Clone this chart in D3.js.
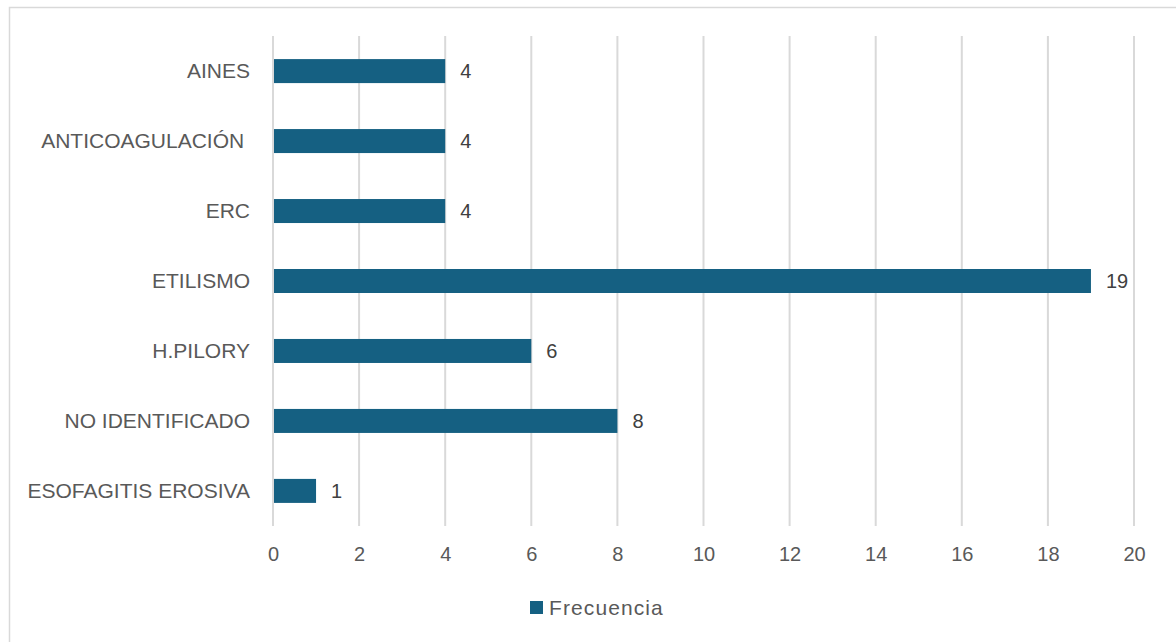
<!DOCTYPE html>
<html>
<head>
<meta charset="utf-8">
<script src="https://cdn.jsdelivr.net/npm/d3@7"></script>
<style>
  html, body { margin: 0; padding: 0; background: #fff; }
  svg text { font-family: "Liberation Sans", Arial, sans-serif; white-space: pre; }
</style>
</head>
<body>
<svg id="chart" width="1176" height="642"></svg>
<script>
// Causes of bleeding and their frequency
const categories = ["AINES", "ANTICOAGULACIÓN ", "ERC", "ETILISMO", "H.PILORY", "NO IDENTIFICADO", "ESOFAGITIS EROSIVA"];
const frequencies = [4, 4, 4, 19, 6, 8, 1];
const xTicks = [0, 2, 4, 6, 8, 10, 12, 14, 16, 18, 20];
const seriesName = "Frecuencia";

const barColor = "#156082";
const textColor = "#595959";
const gridColor = "#d9d9d9";
const labelSize = 21;
const numberSize = 20;

const svg = d3.select("#chart");

// outer frame
svg.append("rect")
  .attr("x", 9.5).attr("y", 7.5)
  .attr("width", 1176).attr("height", 660)
  .attr("fill", "#fff").attr("stroke", gridColor).attr("stroke-width", 1.5);

const plot = { left: 273, right: 1134, top: 36, bottom: 526 };

const x = d3.scaleLinear().domain([0, 20]).range([plot.left, plot.right]);
const y = d3.scaleBand().domain(categories).range([plot.top, plot.bottom]).paddingInner(0.657).paddingOuter(0.33);

// vertical gridlines
svg.append("g")
  .selectAll("line")
  .data(xTicks)
  .join("line")
  .attr("x1", d => x(d)).attr("x2", d => x(d))
  .attr("y1", plot.top).attr("y2", plot.bottom)
  .attr("stroke", gridColor).attr("stroke-width", 2);

// x-axis tick labels
const xAxis = d3.axisBottom(x).tickValues(xTicks).tickSize(0).tickPadding(0);
const gx = svg.append("g")
  .attr("transform", `translate(0,${plot.bottom + 21})`)
  .call(xAxis)
  .attr("font-family", null);
gx.select(".domain").remove();
gx.selectAll("text")
  .attr("fill", textColor)
  .attr("font-size", numberSize)
  .attr("dy", "0.71em");

// category labels
const yAxis = d3.axisLeft(y).tickSize(0).tickPadding(0);
const gy = svg.append("g")
  .attr("transform", `translate(${plot.left - 23},0)`)
  .call(yAxis)
  .attr("font-family", null);
gy.select(".domain").remove();
gy.selectAll("text")
  .attr("fill", textColor)
  .attr("font-size", labelSize);

// bars
const rows = categories.map((c, i) => ({ c, v: frequencies[i] }));
svg.append("g")
  .selectAll("rect")
  .data(rows)
  .join("rect")
  .attr("x", x(0) + 1)
  .attr("y", d => y(d.c))
  .attr("width", d => x(d.v) - x(0) - 1)
  .attr("height", y.bandwidth())
  .attr("fill", barColor);

// value labels
svg.append("g")
  .selectAll("text")
  .data(rows)
  .join("text")
  .attr("x", d => x(d.v) + 15)
  .attr("y", d => y(d.c) + y.bandwidth() / 2)
  .attr("dy", "0.35em")
  .attr("fill", "#404040")
  .attr("font-size", numberSize)
  .text(d => d.v);

// legend
const legend = svg.append("g").attr("transform", "translate(530,601)");
legend.append("rect").attr("width", 13).attr("height", 13).attr("fill", barColor);
legend.append("text")
  .attr("x", 19).attr("y", 6.5).attr("dy", "0.35em")
  .attr("fill", textColor).attr("font-size", labelSize)
  .attr("letter-spacing", 1.1)
  .text(seriesName);
</script>
</body>
</html>
